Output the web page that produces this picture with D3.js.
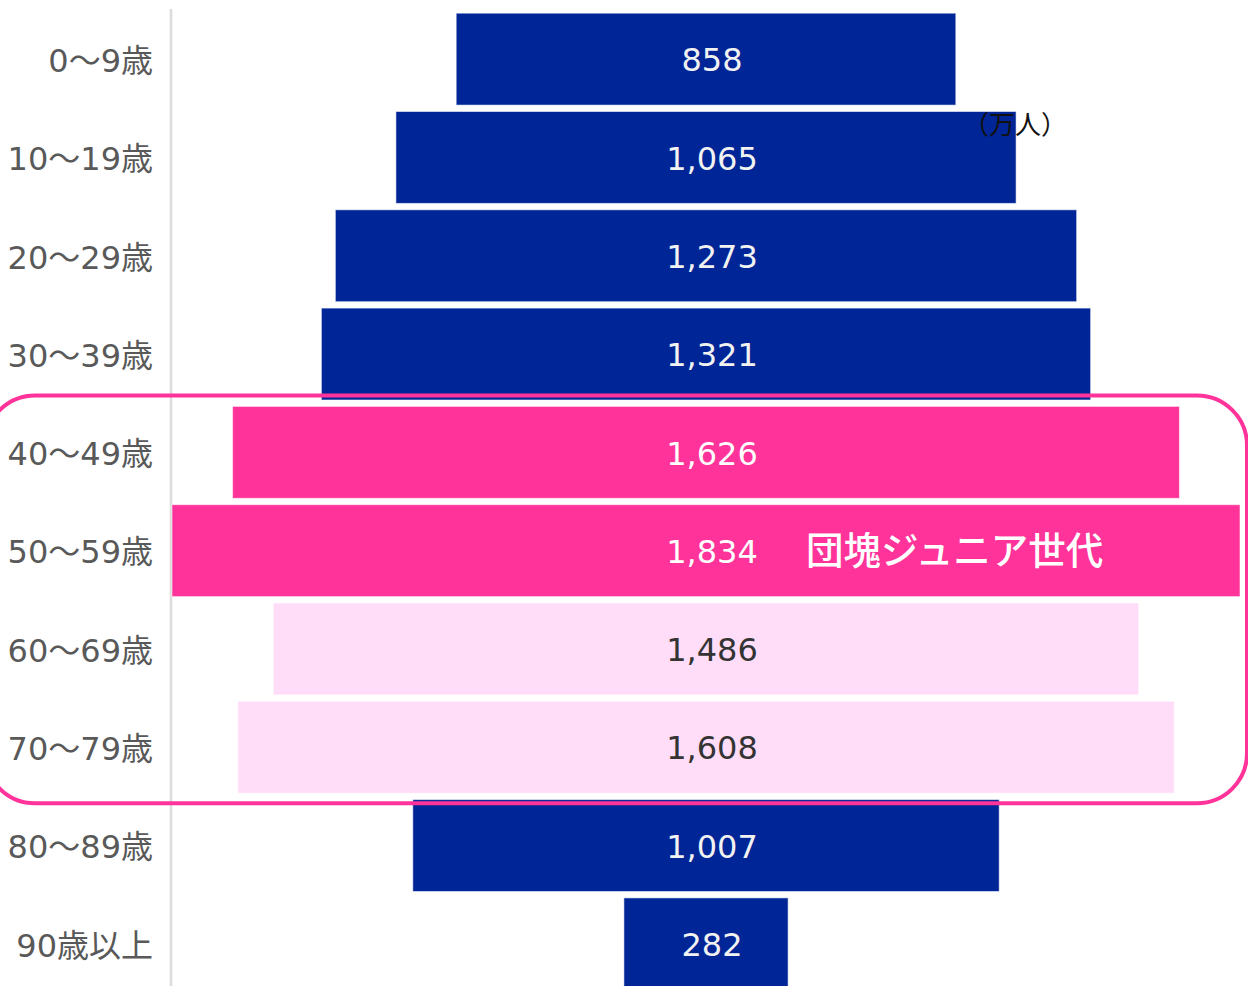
<!DOCTYPE html>
<html lang="ja">
<head>
<meta charset="utf-8">
<script src="https://cdn.jsdelivr.net/npm/d3@7"></script>
<style>
  html, body { margin: 0; padding: 0; background: #fff; }
  svg { display: block; }
  text { font-family: "DejaVu Sans", "Noto Sans CJK JP", sans-serif; }
</style>
</head>
<body>
<svg id="chart" width="1248" height="986"></svg>
<script>
// 年齢階級別人口（万人）
const ageGroups = ["0〜9歳", "10〜19歳", "20〜29歳", "30〜39歳", "40〜49歳",
                   "50〜59歳", "60〜69歳", "70〜79歳", "80〜89歳", "90歳以上"];
const population = [858, 1065, 1273, 1321, 1626, 1834, 1486, 1608, 1007, 282];
// 棒の色分け: base / highlight / sub
const barGroup = ["base", "base", "base", "base", "highlight",
                  "highlight", "sub", "sub", "base", "base"];
const unitLabel = "（万人）";
const calloutLabel = "団塊ジュニア世代";
const calloutIndex = 5;

const fill = { base: "#002596", highlight: "#ff3399", sub: "#ffdcf8" };
const textFill = { base: "#f2f2f2", highlight: "#ffffff", sub: "#333333" };

const svg = d3.select("#chart");
const centerX = 706;

const y = d3.scaleBand()
  .domain(ageGroups)
  .range([10, 993])
  .paddingInner(0.065)
  .paddingOuter(0.0325);

// 棒の幅（中央揃え）
const w = d3.scaleLinear()
  .domain([0, d3.max(population)])
  .range([0, 1068]);

const rows = ageGroups.map((g, i) => ({ g, v: population[i], grp: barGroup[i], i }));

// 左側の縦線
svg.append("line")
  .attr("x1", 171).attr("x2", 171)
  .attr("y1", 9).attr("y2", 986)
  .attr("stroke", "#dcdcdc").attr("stroke-width", 2.5);

// 棒
svg.append("g").selectAll("rect")
  .data(rows)
  .join("rect")
  .attr("x", d => centerX - w(d.v) / 2)
  .attr("y", d => y(d.g))
  .attr("width", d => w(d.v))
  .attr("height", y.bandwidth())
  .attr("fill", d => fill[d.grp])
  .attr("stroke", "rgba(255,255,255,0.55)")
  .attr("stroke-width", 1);

// 年齢ラベル
const ageAxis = d3.axisLeft(y).tickSize(0).tickPadding(0);
svg.append("g")
  .attr("transform", "translate(153,0)")
  .call(ageAxis)
  .call(g => g.select(".domain").remove())
  .selectAll("text")
  .attr("font-size", 32)
  .attr("fill", "#595959")
  .attr("font-family", "'DejaVu Sans', 'Noto Sans CJK JP', sans-serif")
  .attr("dy", "0.4em");

// 数値ラベル
svg.append("g").selectAll("text")
  .data(rows)
  .join("text")
  .attr("x", centerX + 6)
  .attr("y", d => y(d.g) + y.bandwidth() / 2)
  .attr("dy", "0.38em")
  .attr("text-anchor", "middle")
  .attr("font-size", 32)
  .attr("fill", d => textFill[d.grp])
  .text(d => d3.format(",")(d.v));

// 単位
svg.append("text")
  .attr("x", 963)
  .attr("y", 125)
  .attr("dy", "0.35em")
  .attr("font-size", 26)
  .attr("font-family", "'Noto Sans CJK JP', sans-serif")
  .attr("fill", "#111")
  .text(unitLabel);

// 世代ラベル
svg.append("text")
  .attr("x", 806)
  .attr("y", y(ageGroups[calloutIndex]) + y.bandwidth() / 2)
  .attr("dy", "0.36em")
  .attr("font-size", 37.5)
  .attr("font-weight", 500)
  .attr("font-family", "'Noto Sans CJK JP', sans-serif")
  .attr("fill", "#ffffff")
  .text(calloutLabel);

// 強調枠（40〜79歳）
const frameTop = y(ageGroups[4]) - 11;
const frameBottom = y(ageGroups[7]) + y.bandwidth() + 10;
svg.append("rect")
  .attr("x", -15)
  .attr("y", frameTop)
  .attr("width", 1262)
  .attr("height", frameBottom - frameTop)
  .attr("rx", 50).attr("ry", 50)
  .attr("fill", "none")
  .attr("stroke", "#ff3399")
  .attr("stroke-width", 4);
</script>
</body>
</html>
